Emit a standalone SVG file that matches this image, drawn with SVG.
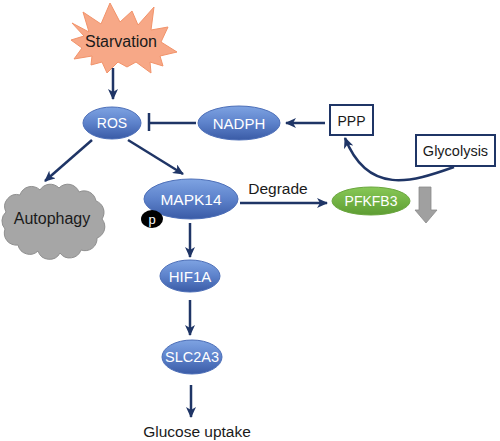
<svg xmlns="http://www.w3.org/2000/svg" width="500" height="441" viewBox="0 0 500 441">
<defs>
<linearGradient id="blue" x1="0" y1="0" x2="0" y2="1">
<stop offset="0" stop-color="#7ea3e2"/>
<stop offset="0.5" stop-color="#5d82cb"/>
<stop offset="1" stop-color="#3a5ba6"/>
</linearGradient>
<linearGradient id="green" x1="0" y1="0" x2="0" y2="1">
<stop offset="0" stop-color="#88c856"/>
<stop offset="1" stop-color="#5e9d33"/>
</linearGradient>
<marker id="ah" markerUnits="userSpaceOnUse" markerWidth="12" markerHeight="10" refX="10" refY="5" orient="auto">
<path d="M0,0 L11,5 L0,10 L3,5 Z" fill="#1f3566"/>
</marker>
</defs>
<style>
.conn{fill:none;stroke:#1f3566;stroke-width:2.5}
.ell{fill:url(#blue);stroke:#4d6fb8;stroke-width:1}
.wt{font-family:"Liberation Sans",Arial,sans-serif;fill:#ffffff;text-anchor:middle}
.bt{font-family:"Liberation Sans",Arial,sans-serif;fill:#1a1a1a;text-anchor:middle}
.box{fill:#ffffff;stroke:#1f3566;stroke-width:2}
</style>
<g id="starvation">
<polygon points="72,23 89,32 83,12 101,24 110,3 120,22 132,11 138,25 154,7 151,30 168,27 161,42 177,52 160,56 163,66 150,62 151,73 136,62 127,67 118,62 107,73 102,62 91,65 92,56 74,59 82,48 71,40 84,36" fill="#f7a887" stroke="#f2936a" stroke-width="1"/>
<text class="bt" x="121" y="47" font-size="16">Starvation</text>
</g>
<g id="ros">
<ellipse class="ell" cx="112" cy="123" rx="29" ry="16"/>
<text class="wt" x="112" y="128" font-size="14">ROS</text>
</g>
<g id="nadph">
<ellipse class="ell" cx="239" cy="123" rx="41" ry="17"/>
<text class="wt" x="239" y="128.5" font-size="15">NADPH</text>
</g>
<g id="ppp">
<rect class="box" x="330" y="105" width="43" height="30"/>
<text class="bt" x="351.5" y="125.5" font-size="14">PPP</text>
</g>
<g id="glycolysis">
<rect class="box" x="416" y="135" width="79" height="31"/>
<text class="bt" x="455.5" y="156" font-size="14.5">Glycolysis</text>
</g>
<g id="autophagy">
<path d="M6,212 A12,12 0 0 1 20,195 A12,12 0 0 1 40,190 A12,12 0 0 1 59,188 A12,12 0 0 1 79,192 A12,12 0 0 1 96,201 A12,12 0 0 1 102,219 A12,12 0 0 1 97,238 A12,12 0 0 1 81,250 A12,12 0 0 1 60,253 A12,12 0 0 1 38,251 A12,12 0 0 1 18,245 A12,12 0 0 1 5,229 A12,12 0 0 1 6,212 Z" fill="#a6a6a6" stroke="#8f8f8f" stroke-width="1"/>
<text class="bt" x="52" y="224" font-size="16">Autophagy</text>
</g>
<g id="mapk14">
<ellipse class="ell" cx="191" cy="199" rx="47" ry="20"/>
<text class="wt" x="191" y="205" font-size="15.5">MAPK14</text>
</g>
<g id="p">
<ellipse cx="152" cy="219" rx="11" ry="9" fill="#000000"/>
<text class="wt" x="152" y="223.5" font-size="13">p</text>
</g>
<g id="pfkfb3">
<ellipse cx="371" cy="201" rx="39" ry="14" fill="url(#green)" stroke="#6aa63e" stroke-width="1"/>
<text class="wt" x="371" y="206" font-size="14">PFKFB3</text>
</g>
<g id="down-arrow">
<polygon points="419,187 431,187 431,210 437,210 426,223 415,210 419,210" fill="#a0a0a0" stroke="#8a8a8a" stroke-width="0.8"/>
</g>
<g id="hif1a">
<ellipse class="ell" cx="190" cy="276" rx="30" ry="16"/>
<text class="wt" x="190" y="281.5" font-size="15">HIF1A</text>
</g>
<g id="slc2a3">
<ellipse class="ell" cx="192" cy="357" rx="30" ry="17"/>
<text class="wt" x="192" y="362" font-size="14.5">SLC2A3</text>
</g>
<text class="bt" x="197" y="437" font-size="15.5">Glucose uptake</text>
<text class="bt" x="278" y="194" font-size="15.5">Degrade</text>
<g id="connectors">
<line class="conn" x1="113" y1="68" x2="113" y2="99" marker-end="url(#ah)"/>
<line class="conn" x1="196" y1="123" x2="149" y2="123"/>
<line class="conn" x1="149" y1="113" x2="149" y2="131"/>
<line class="conn" x1="325" y1="123" x2="286" y2="123" marker-end="url(#ah)"/>
<path class="conn" d="M454,167 C412,182 368,196 345,138" marker-end="url(#ah)"/>
<line class="conn" x1="92" y1="140" x2="45" y2="181" marker-end="url(#ah)"/>
<line class="conn" x1="128" y1="140" x2="183" y2="174" marker-end="url(#ah)"/>
<line class="conn" x1="240" y1="203" x2="327" y2="203" marker-end="url(#ah)"/>
<line class="conn" x1="190" y1="223" x2="190" y2="257" marker-end="url(#ah)"/>
<line class="conn" x1="190" y1="300" x2="190" y2="335" marker-end="url(#ah)"/>
<line class="conn" x1="191" y1="385" x2="191" y2="417" marker-end="url(#ah)"/>
</g>
</svg>
